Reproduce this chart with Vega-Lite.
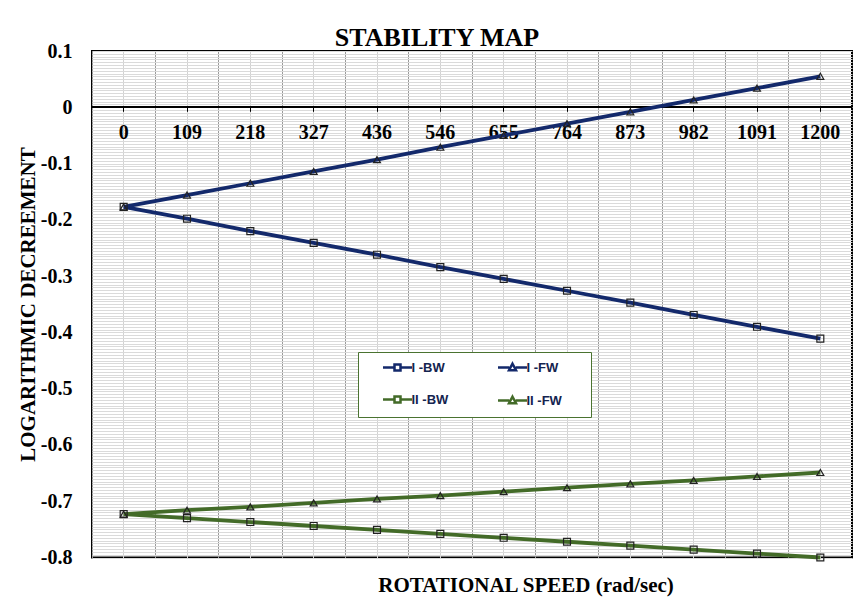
{
  "$schema": "https://vega.github.io/schema/vega-lite/v6.json",
  "width": 760,
  "height": 506.5,
  "autosize": {"type": "none"},
  "padding": {"left": 92, "top": 51, "right": 1, "bottom": 41.5},
  "background": "white",
  "title": {"text": "STABILITY MAP", "font": "Liberation Serif", "fontSize": 26, "fontWeight": "bold", "color": "#000000", "anchor": "middle", "frame": "group", "dx": -35, "dy": 35, "baseline": "alphabetic", "offset": 4},
  "config": {"view": {"stroke": "#000000", "strokeWidth": 2}, "font": "Liberation Serif"},
  "data": {"values": [
    {"series": "I -BW", "speed": "0", "value": -0.177},
    {"series": "I -BW", "speed": "109", "value": -0.198},
    {"series": "I -BW", "speed": "218", "value": -0.220},
    {"series": "I -BW", "speed": "327", "value": -0.241},
    {"series": "I -BW", "speed": "436", "value": -0.262},
    {"series": "I -BW", "speed": "546", "value": -0.284},
    {"series": "I -BW", "speed": "655", "value": -0.305},
    {"series": "I -BW", "speed": "764", "value": -0.326},
    {"series": "I -BW", "speed": "873", "value": -0.347},
    {"series": "I -BW", "speed": "982", "value": -0.369},
    {"series": "I -BW", "speed": "1091", "value": -0.390},
    {"series": "I -BW", "speed": "1200", "value": -0.411},
    {"series": "I -FW", "speed": "0", "value": -0.177},
    {"series": "I -FW", "speed": "109", "value": -0.156},
    {"series": "I -FW", "speed": "218", "value": -0.135},
    {"series": "I -FW", "speed": "327", "value": -0.114},
    {"series": "I -FW", "speed": "436", "value": -0.093},
    {"series": "I -FW", "speed": "546", "value": -0.071},
    {"series": "I -FW", "speed": "655", "value": -0.050},
    {"series": "I -FW", "speed": "764", "value": -0.029},
    {"series": "I -FW", "speed": "873", "value": -0.008},
    {"series": "I -FW", "speed": "982", "value": 0.013},
    {"series": "I -FW", "speed": "1091", "value": 0.034},
    {"series": "I -FW", "speed": "1200", "value": 0.055},
    {"series": "II -BW", "speed": "0", "value": -0.723},
    {"series": "II -BW", "speed": "109", "value": -0.730},
    {"series": "II -BW", "speed": "218", "value": -0.737},
    {"series": "II -BW", "speed": "327", "value": -0.744},
    {"series": "II -BW", "speed": "436", "value": -0.751},
    {"series": "II -BW", "speed": "546", "value": -0.758},
    {"series": "II -BW", "speed": "655", "value": -0.765},
    {"series": "II -BW", "speed": "764", "value": -0.772},
    {"series": "II -BW", "speed": "873", "value": -0.779},
    {"series": "II -BW", "speed": "982", "value": -0.786},
    {"series": "II -BW", "speed": "1091", "value": -0.793},
    {"series": "II -BW", "speed": "1200", "value": -0.800},
    {"series": "II -FW", "speed": "0", "value": -0.723},
    {"series": "II -FW", "speed": "109", "value": -0.716},
    {"series": "II -FW", "speed": "218", "value": -0.710},
    {"series": "II -FW", "speed": "327", "value": -0.703},
    {"series": "II -FW", "speed": "436", "value": -0.696},
    {"series": "II -FW", "speed": "546", "value": -0.690},
    {"series": "II -FW", "speed": "655", "value": -0.683},
    {"series": "II -FW", "speed": "764", "value": -0.676},
    {"series": "II -FW", "speed": "873", "value": -0.669},
    {"series": "II -FW", "speed": "982", "value": -0.663},
    {"series": "II -FW", "speed": "1091", "value": -0.656},
    {"series": "II -FW", "speed": "1200", "value": -0.649}
  ]},
  "layer": [
    {
      "mark": {"type": "rule", "color": "#000000", "strokeWidth": 1.5},
      "encoding": {
        "y": {"datum": 0, "type": "quantitative", "axis": null}
      }
    },
    {
      "transform": [{"filter": "test(/BW/, datum.series)"}],
      "mark": {"type": "line", "strokeWidth": 3.8},
      "encoding": {
        "x": {
          "field": "speed", "type": "ordinal",
          "scale": {"type": "band", "paddingInner": 0, "paddingOuter": 0, "domain": ["0", "109", "218", "327", "436", "546", "655", "764", "873", "982", "1091", "1200"]},
          "bandPosition": 0.5,
          "axis": {
            "orient": "bottom", "offset": -450.2, "labelAngle": 0,
            "labelFont": "Liberation Serif", "labelFontSize": 20, "labelFontWeight": "bold", "labelColor": "#000000", "labelPadding": 11,
            "ticks": true, "tickSize": 4, "tickColor": "#000000", "domain": false,
            "grid": true, "gridColor": "#d2d2d2", "gridWidth": 1,
            "title": "ROTATIONAL SPEED  (rad/sec)", "titleFont": "Liberation Serif", "titleFontSize": 21, "titleFontWeight": "bold", "titleColor": "#000000",
            "titleX": 433.5, "titleY": 484, "titleAlign": "center", "titleBaseline": "alphabetic"
          }
        },
        "y": {
          "field": "value", "type": "quantitative",
          "scale": {"domain": [-0.8, 0.1], "nice": false, "zero": false},
          "axis": {
            "orient": "left", "values": [-0.8, -0.7, -0.6, -0.5, -0.4, -0.3, -0.2, -0.1, 0, 0.1],
            "labelExpr": "datum.value < -0.001 ? '-' + format(-datum.value, '.1f') : format(datum.value, '.1~f')",
            "labelFont": "Liberation Serif", "labelFontSize": 20, "labelFontWeight": "bold", "labelColor": "#000000", "labelPadding": 20,
            "ticks": false, "domain": false, "grid": false,
            "title": "LOGARITHMIC DECREEMENT", "titleFont": "Liberation Serif", "titleFontSize": 21, "titleFontWeight": "bold", "titleColor": "#000000",
            "titleX": -64, "titleY": 253, "titleAngle": 270, "titleAlign": "center", "titleBaseline": "middle"
          }
        },
        "color": {
          "field": "series", "type": "nominal",
          "scale": {"domain": ["I -BW", "II -BW"], "range": ["#13296b", "#436b28"]},
          "legend": {
            "orient": "none", "legendX": 266, "legendY": 301, "direction": "vertical",
            "title": "\u00a0", "titleOrient": "right", "titleFontSize": 1, "titlePadding": 134,
            "strokeColor": "#4a7330", "fillColor": "#ffffff", "padding": 9,
            "symbolType": "M-2.9,0H-0.65M0.65,0H2.9M-0.6,-0.6H0.6V0.6H-0.6Z",
            "symbolSize": 100, "symbolStrokeWidth": 2.5, "symbolFillColor": "transparent", "symbolOffset": 24, "labelOffset": 7.5,
            "rowPadding": 15,
            "labelFont": "Liberation Sans", "labelFontSize": 13, "labelFontWeight": "bold", "labelColor": "#14244f"
          }
        }
      }
    },
    {
      "transform": [{"filter": "test(/FW/, datum.series)"}],
      "mark": {"type": "line", "strokeWidth": 3.8},
      "encoding": {
        "x": {"field": "speed", "type": "ordinal", "bandPosition": 0.5, "axis": null},
        "y": {"field": "value", "type": "quantitative", "axis": null},
        "stroke": {
          "field": "series", "type": "nominal",
          "scale": {"domain": ["I -FW", "II -FW"], "range": ["#13296b", "#436b28"]},
          "legend": {
            "orient": "none", "legendX": 381, "legendY": 301, "direction": "vertical", "title": null,
            "strokeColor": "transparent", "fillColor": "transparent", "padding": 9,
            "symbolType": "M-2.9,0H-0.65M0.65,0H2.9M0,-0.75L0.7,0.55H-0.7Z",
            "symbolSize": 100, "symbolStrokeWidth": 2.5, "symbolFillColor": "transparent", "symbolOffset": 24, "labelOffset": 7.5,
            "rowPadding": 15,
            "labelFont": "Liberation Sans", "labelFontSize": 13, "labelFontWeight": "bold", "labelColor": "#14244f"
          }
        }
      }
    },
    {
      "transform": [{"filter": "test(/BW/, datum.series)"}],
      "mark": {"type": "point", "shape": "square", "filled": false, "stroke": "#222222", "strokeWidth": 1.2, "size": 48, "opacity": 1},
      "encoding": {
        "x": {
          "field": "speed", "type": "ordinal", "bandPosition": 0.5,
          "axis": {"orient": "top", "bandPosition": 0, "labels": false, "ticks": false, "domain": false, "grid": true, "gridColor": "#9a9a9a", "gridWidth": 1, "title": null}
        },
        "y": {
          "field": "value", "type": "quantitative",
          "axis": {"orient": "right", "tickCount": 180, "labels": false, "ticks": false, "domain": false, "grid": true, "gridColor": "#dadada", "gridWidth": 1, "title": null}
        }
      }
    },
    {
      "transform": [{"filter": "test(/FW/, datum.series)"}],
      "mark": {"type": "point", "shape": "triangle-up", "filled": false, "stroke": "#222222", "strokeWidth": 1.2, "size": 48, "opacity": 1},
      "encoding": {
        "x": {"field": "speed", "type": "ordinal", "bandPosition": 0.5, "axis": null},
        "y": {"field": "value", "type": "quantitative", "axis": null}
      }
    }
  ],
  "resolve": {"axis": {"x": "independent", "y": "independent"}}
}
